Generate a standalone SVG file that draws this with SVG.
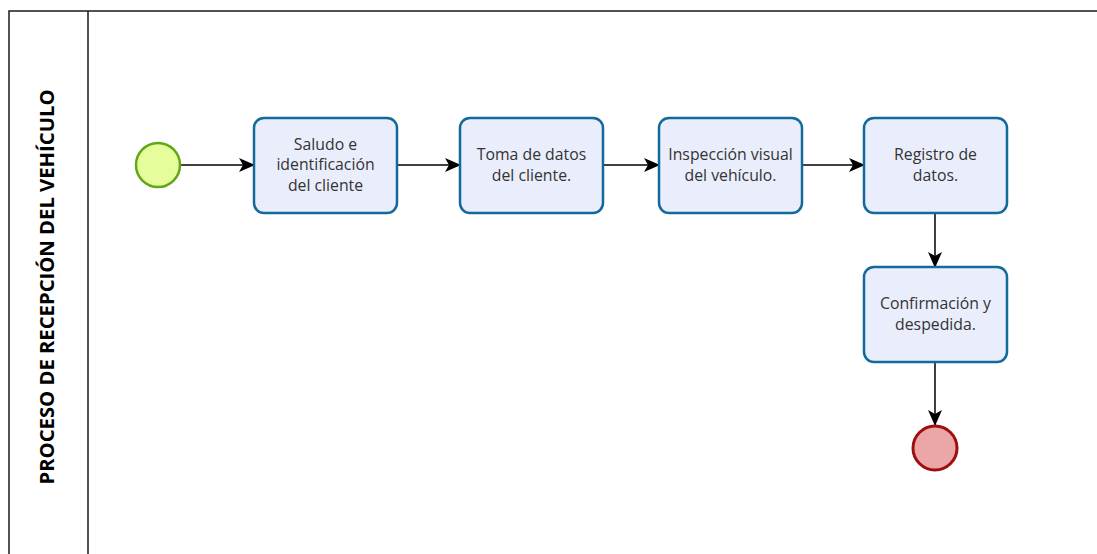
<svg xmlns="http://www.w3.org/2000/svg" width="1097" height="554" viewBox="0 0 1097 554">
<style>
.task{fill:#eaeefc;stroke:#13699a;stroke-width:2.5}
.lbl{font-family:"Open Sans","Noto Sans",sans-serif;font-size:15.8px;fill:#333;text-anchor:middle}
.conn{stroke:#000;stroke-width:1.5;fill:none;marker-end:url(#ah)}
.pool{fill:none;stroke:#1a1a1a;stroke-width:1.5}
</style>
<defs>
<marker id="ah" markerWidth="16" markerHeight="14" refX="15" refY="7" orient="auto" markerUnits="userSpaceOnUse">
<path d="M0,0 L16,7 L0,14 L4,7 z" fill="#000"/>
</marker>
</defs>
<rect width="1097" height="554" fill="#fff"/>
<g id="pool">
<path class="pool" d="M1097,11 H9 V554 M88,11 V554"/>
<text transform="translate(54,287) rotate(-90)" font-family="'Open Sans','Noto Sans',sans-serif" font-size="19" font-weight="bold" text-anchor="middle" fill="#000" textLength="395" lengthAdjust="spacingAndGlyphs">PROCESO DE RECEPCIÓN DEL VEHÍCULO</text>
</g>
<g id="connectors">
<line class="conn" x1="181" y1="165" x2="254" y2="165"/>
<line class="conn" x1="397" y1="165" x2="460" y2="165"/>
<line class="conn" x1="603" y1="165" x2="659" y2="165"/>
<line class="conn" x1="802" y1="165" x2="864" y2="165"/>
<line class="conn" x1="935" y1="213" x2="935" y2="267"/>
<line class="conn" x1="935" y1="362" x2="935" y2="425"/>
</g>
<g id="start"><circle cx="158" cy="165" r="22" fill="#e6fd9b" stroke="#62a716" stroke-width="2.5"/></g>
<g id="t1"><rect class="task" x="254" y="118" width="143" height="95" rx="10"/>
<text class="lbl" x="325.5" y="150">Saludo e</text>
<text class="lbl" x="325.5" y="170">identificación</text>
<text class="lbl" x="325.5" y="191">del cliente</text></g>
<g id="t2"><rect class="task" x="460" y="118" width="143" height="95" rx="10"/>
<text class="lbl" x="531.5" y="160">Toma de datos</text>
<text class="lbl" x="531.5" y="181">del cliente.</text></g>
<g id="t3"><rect class="task" x="659" y="118" width="143" height="95" rx="10"/>
<text class="lbl" x="730.5" y="160">Inspección visual</text>
<text class="lbl" x="730.5" y="181">del vehículo.</text></g>
<g id="t4"><rect class="task" x="864" y="118" width="143" height="95" rx="10"/>
<text class="lbl" x="935.5" y="160">Registro de</text>
<text class="lbl" x="935.5" y="181">datos.</text></g>
<g id="t5"><rect class="task" x="864" y="267" width="143" height="95" rx="10"/>
<text class="lbl" x="935.5" y="309">Confirmación y</text>
<text class="lbl" x="935.5" y="330">despedida.</text></g>
<g id="end"><circle cx="935" cy="448" r="22" fill="#eba7a7" stroke="#a00f0f" stroke-width="3"/></g>
</svg>
